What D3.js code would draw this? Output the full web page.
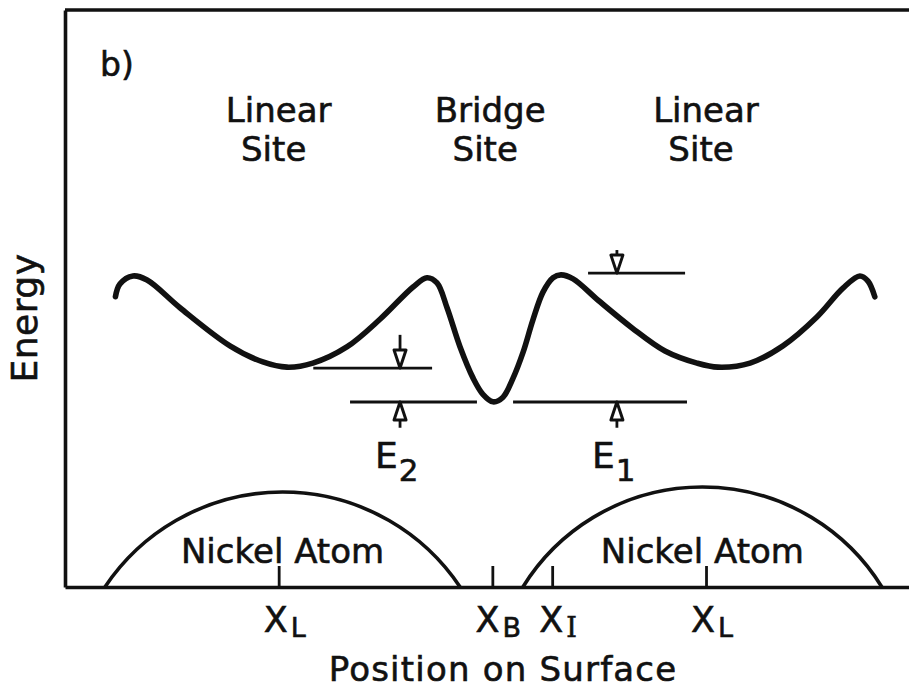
<!DOCTYPE html>
<html>
<head>
<meta charset="utf-8">
<script src="https://cdn.jsdelivr.net/npm/d3@7/dist/d3.min.js"></script>
<style>
  html, body { margin: 0; padding: 0; background: #fff; }
  svg { display: block; }
  text { font-family: "DejaVu Sans", sans-serif; fill: #111; stroke: #111; stroke-width: 0.6px; }
</style>
</head>
<body>
<svg id="chart" width="909" height="693"></svg>
<script>
// Potential energy of an adsorbed CO along a Ni surface row
// position unit: distance from a linear (on-top) site to the bridge site
const curvePos = [-1.764, -1.743, -1.682, -1.616, -1.462, -1.228, -1.074, -0.961, -0.840, -0.681,
                  -0.526, -0.371, -0.306, -0.259, -0.212, -0.151, -0.090, -0.044, 0.003, 0.050,
                  0.097, 0.144, 0.190, 0.237, 0.284, 0.321, 0.378, 0.495, 0.654, 0.808,
                  0.958, 1.056, 1.206, 1.360, 1.519, 1.641, 1.720, 1.758, 1.790];
const curveEnergy = [5.03, 5.25, 5.39, 5.32, 4.84, 4.18, 3.90, 3.81, 3.88, 4.16,
                     4.64, 5.20, 5.36, 5.27, 4.84, 4.16, 3.62, 3.34, 3.21, 3.29,
                     3.62, 4.07, 4.63, 5.11, 5.36, 5.41, 5.34, 4.97, 4.49, 4.09,
                     3.88, 3.81, 3.88, 4.18, 4.68, 5.18, 5.39, 5.30, 5.03];

// site headings
const siteNames = [["Linear", "Site"], ["Bridge", "Site"], ["Linear", "Site"]];
const sitePos = [-1.0, -0.01, 1.0];

// nickel atoms drawn as circular caps on the surface line
const atomCenters = [-0.982, 0.983];
const atomHalfWidths = [0.831, 0.840];
const atomHeights = [1.646, 1.733];
const atomLabel = "Nickel Atom";

// marked positions on the surface
const tickPos = [-1.0, 0.0, 0.28, 1.0];
const tickMain = ["X", "X", "X", "X"];
const tickSub = ["L", "B", "I", "L"];

// reference energy levels
const levelEnergy = [5.44, 3.795, 3.206, 3.206];
const levelFrom = [0.448, -0.838, -0.666, 0.097];
const levelTo = [0.902, -0.282, -0.072, 0.911];

// barrier arrows (tail energy -> head energy)
const arrowPos = [0.583, -0.432, -0.432, 0.583];
const arrowTail = [5.84, 4.37, 2.76, 2.76];
const arrowHead = [5.44, 3.795, 3.206, 3.206];

// barrier labels
const barrierNames = ["E", "E"];
const barrierSubs = ["2", "1"];
const barrierPos = [-0.432, 0.583];

const svg = d3.select("#chart");
const x = d3.scaleLinear().domain([-2, 1.95]).range([65, 909]);
const y = d3.scaleLinear().domain([0, 10]).range([587, 10]);

// frame: surface line with inward ticks, left energy axis, top rule
const xAxis = d3.axisBottom(x).tickValues(tickPos).tickSizeInner(-21).tickSizeOuter(0).tickFormat("");
const gx = svg.append("g").attr("transform", `translate(0,${y(0)})`).call(xAxis);
gx.select(".domain").attr("stroke", "#111").attr("stroke-width", 3.4);
gx.selectAll(".tick line").attr("stroke", "#111").attr("stroke-width", 2.8);

const yAxis = d3.axisLeft(y).tickValues([]).tickSizeOuter(0);
const gy = svg.append("g").attr("transform", `translate(${x(-2)},0)`).call(yAxis);
gy.select(".domain").attr("stroke", "#111").attr("stroke-width", 3.6);

svg.append("line")
  .attr("x1", x(-2)).attr("x2", x(1.95))
  .attr("y1", y(10)).attr("y2", y(10))
  .attr("stroke", "#111").attr("stroke-width", 3.4);

// panel tag
svg.append("text").attr("x", 100).attr("y", 76).attr("font-size", 33).text("b)");

// site headings
siteNames.forEach((lines, i) => {
  const t = svg.append("text").attr("text-anchor", "middle").attr("font-size", 34);
  lines.forEach((s, j) => {
    t.append("tspan").attr("x", x(sitePos[i]) - (j ? 5 : 0)).attr("y", 122 + j * 39).text(s);
  });
});

// nickel atoms
atomCenters.forEach((c, i) => {
  const x0 = x(c - atomHalfWidths[i]), x1 = x(c + atomHalfWidths[i]);
  const base = y(0), h = base - y(atomHeights[i]);
  const chord = x1 - x0;
  const r = (chord * chord / 4 + h * h) / (2 * h);
  svg.append("path")
    .attr("d", `M${x0},${base} A${r},${r} 0 0 1 ${x1},${base}`)
    .attr("fill", "none").attr("stroke", "#111").attr("stroke-width", 3.6);
  svg.append("text")
    .attr("x", x(c)).attr("y", 563)
    .attr("text-anchor", "middle").attr("font-size", 34)
    .text(atomLabel);
});

// tick labels with subscripts
tickPos.forEach((p, i) => {
  const t = svg.append("text").attr("x", x(p) + 6).attr("y", 632)
    .attr("text-anchor", "middle").attr("font-size", 35);
  t.append("tspan").text(tickMain[i]);
  const sub = t.append("tspan").attr("dy", 5).attr("dx", 3).attr("font-size", 27).text(tickSub[i]);
  if (tickSub[i] === "I") sub.style("font-family", "'DejaVu Serif', serif");
});

// reference levels
levelEnergy.forEach((e, i) => {
  svg.append("line")
    .attr("x1", x(levelFrom[i])).attr("x2", x(levelTo[i]))
    .attr("y1", y(e)).attr("y2", y(e))
    .attr("stroke", "#111").attr("stroke-width", 2.8);
});

// arrows
arrowPos.forEach((p, i) => {
  const xa = x(p), yt = y(arrowTail[i]), yh = y(arrowHead[i]);
  const dir = yh > yt ? 1 : -1;
  const headLen = 18, headHalf = 6;
  svg.append("line")
    .attr("x1", xa).attr("x2", xa)
    .attr("y1", yt).attr("y2", yh - dir * headLen)
    .attr("stroke", "#111").attr("stroke-width", 2.8);
  svg.append("path")
    .attr("d", `M${xa},${yh} L${xa - headHalf},${yh - dir * headLen} L${xa + headHalf},${yh - dir * headLen} Z`)
    .attr("fill", "#fff").attr("stroke", "#111").attr("stroke-width", 3)
    .attr("stroke-linejoin", "round");
});

// barrier labels
barrierPos.forEach((p, i) => {
  const t = svg.append("text").attr("x", x(p) - 25).attr("y", 468).attr("font-size", 36);
  t.append("tspan").text(barrierNames[i]);
  t.append("tspan").attr("dy", 13).attr("dx", 1).attr("font-size", 31).text(barrierSubs[i]);
});

// energy curve
const line = d3.line()
  .x((d, i) => x(curvePos[i]))
  .y((d, i) => y(curveEnergy[i]))
  .curve(d3.curveCatmullRom.alpha(0.5));
svg.append("path")
  .attr("d", line(curvePos))
  .attr("fill", "none").attr("stroke", "#111")
  .attr("stroke-width", 5.6).attr("stroke-linecap", "round").attr("stroke-linejoin", "round");

// axis titles
svg.append("text")
  .attr("x", x(0.05)).attr("y", 681)
  .attr("text-anchor", "middle").attr("font-size", 34)
  .attr("letter-spacing", 1.2)
  .text("Position on Surface");

svg.append("text")
  .attr("transform", `translate(37,318) rotate(-90)`)
  .attr("text-anchor", "middle").attr("font-size", 36)
  .attr("letter-spacing", 0.5)
  .text("Energy");
</script>
</body>
</html>
